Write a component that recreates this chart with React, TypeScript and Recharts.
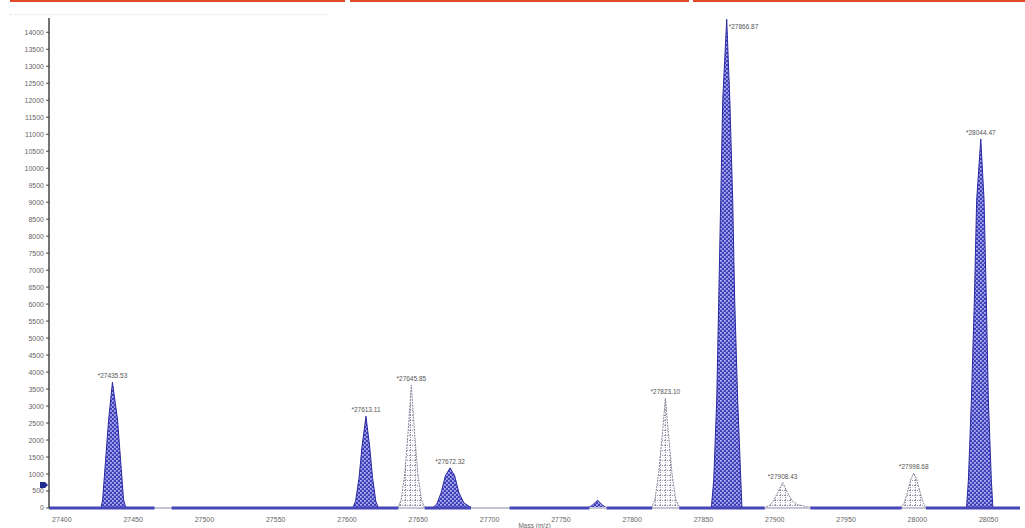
import React from 'react';
import { ComposedChart, Area, XAxis, YAxis, ReferenceDot, ReferenceLine } from 'recharts';

// ---- data (mass in Da, intensity in counts) ----
const xTicks = [27400, 27450, 27500, 27550, 27600, 27650, 27700, 27750, 27800, 27850, 27900, 27950, 28000, 28050];
const yTicks = [0, 500, 1000, 1500, 2000, 2500, 3000, 3500, 4000, 4500, 5000, 5500, 6000, 6500, 7000, 7500,
  8000, 8500, 9000, 9500, 10000, 10500, 11000, 11500, 12000, 12500, 13000, 13500, 14000];

// filled (blue) peaks
const peak27435 = [[27427.5, 0], [27428.6, 235], [27430.7, 1410], [27432.8, 2590], [27435.5, 3700], [27439.1, 2590], [27441.2, 1410], [27443.3, 235], [27445, 0]];
const peak27613 = [[27604, 0], [27606, 200], [27608.5, 900], [27610.5, 1800], [27613.3, 2700], [27615.9, 1800], [27617.9, 900], [27620.2, 200], [27622, 0]];
const peak27672 = [[27660, 0], [27663, 120], [27666, 450], [27669, 950], [27672.3, 1180], [27675.5, 950], [27678.5, 450], [27682, 150], [27686, 40], [27688, 0]];
const peak27776 = [[27769, 0], [27772, 80], [27775.8, 230], [27779, 90], [27782, 0]];
const peak27866 = [[27855.5, 0], [27857.2, 820], [27859.3, 3180], [27860.7, 6120], [27862.1, 9060], [27863.5, 12000], [27866.3, 14380], [27868.5, 12000], [27870.5, 9060], [27871.9, 6120], [27874, 3180], [27876.2, 820], [27877, 0]];
const peak28044 = [[28034.5, 0], [28035.8, 820], [28037.9, 3180], [28040, 6120], [28041.6, 9060], [28044.5, 10860], [28046.8, 9060], [28048.4, 6120], [28049.8, 3180], [28051.9, 820], [28053, 0]];

// open (white, hatched) peaks
const peak27645 = [[27635.5, 0], [27638, 250], [27640.5, 1000], [27642.8, 2200], [27645.1, 3620], [27647.4, 2200], [27649.7, 1000], [27652.2, 250], [27654.5, 0]];
const peak27823 = [[27813.5, 0], [27816, 250], [27818.5, 1000], [27821, 2100], [27823.3, 3235], [27825.6, 2100], [27828, 1000], [27830.5, 250], [27833.5, 0]];
const peak27908 = [[27892, 0], [27896, 60], [27899, 200], [27902, 450], [27905.5, 750], [27909, 450], [27912, 220], [27916, 100], [27922, 40], [27930, 0]];
const peak27998 = [[27988, 0], [27990.5, 120], [27993, 450], [27995.5, 850], [27997.5, 1030], [27999.5, 850], [28002, 450], [28004.5, 120], [28006, 0]];

const bluePeaks = [peak27435, peak27613, peak27672, peak27776, peak27866, peak28044];
const whitePeaks = [peak27645, peak27823, peak27908, peak27998];

// peak annotations
const peakLabels = ['*27435.53', '*27613.11', '*27645.85', '*27672.32', '*27823.10', '*27866.87', '*27908.43', '*27998.68', '*28044.47'];
const peakLabelMass = [27435.5, 27613.3, 27645.1, 27672.3, 27823.3, 27866.3, 27905.5, 27997.5, 28044.5];
const peakLabelHeight = [3700, 2700, 3620, 1180, 3235, 14380, 750, 1030, 10860];

// baseline segments drawn in blue (mass ranges)
const blueBaseline = [[27391, 27465], [27477, 27636], [27654.5, 27687], [27714, 27770], [27782, 27814], [27833, 27893], [27925, 27989], [28006, 28072]];

const thresholdLevel = 680;

const X_DOMAIN: [number, number] = [27391, 28072];
const Y_DOMAIN: [number, number] = [0, 14420];

const toRows = (pts: number[][]) => pts.map(([m, v]) => ({ m, v }));

const FONT = 'Liberation Sans, Arial, sans-serif';
const tickStyle = { fontSize: 7, fill: '#666', fontFamily: FONT };

export default function App() {
  return (
    <div style={{ position: 'absolute', left: 0, top: 0, width: 1025, height: 528, background: '#fff', overflow: 'hidden' }}>
      <div style={{ position: 'absolute', top: 0, left: 10, width: 335, height: 2, background: '#e04a2a' }} />
      <div style={{ position: 'absolute', top: 0, left: 350, width: 339, height: 2, background: '#e04a2a' }} />
      <div style={{ position: 'absolute', top: 0, left: 693, width: 332, height: 2, background: '#e04a2a' }} />
      <div style={{ position: 'absolute', top: 14, left: 10, width: 320, height: 0, borderTop: '1px dotted #e4e4e4' }} />
      <ComposedChart width={1025} height={528} margin={{ top: 18, right: 5, bottom: 0, left: 0 }}>
        <defs>
          <pattern id="bluePat" width="4" height="4" patternUnits="userSpaceOnUse">
            <rect width="4" height="4" fill="#4040b8" />
            <rect x="0" y="0" width="1.8" height="1.8" fill="#aeaef4" />
            <rect x="2" y="2" width="1.8" height="1.8" fill="#aeaef4" />
          </pattern>
          <pattern id="whitePat" width="5" height="5" patternUnits="userSpaceOnUse">
            <rect width="5" height="5" fill="#fcfcfe" />
            <path d="M0 0.5H5M0.5 0V5" stroke="#8e8ea2" strokeWidth="0.9" strokeDasharray="1 1" />
          </pattern>
        </defs>
        <XAxis
          dataKey="m"
          type="number"
          domain={X_DOMAIN}
          allowDataOverflow
          ticks={xTicks}
          interval={0}
          tick={tickStyle}
          tickLine={false}
          tickMargin={3}
          axisLine={false}
          height={20}
          label={{ value: 'Mass (m/z)', position: 'insideBottom', offset: 0, fontSize: 6.5, fill: '#666', fontFamily: FONT }}
        />
        <YAxis
          type="number"
          domain={Y_DOMAIN}
          allowDataOverflow
          ticks={yTicks}
          interval={0}
          width={49}
          tick={tickStyle}
          tickSize={3}
          tickMargin={2}
          tickLine={{ stroke: '#444' }}
          axisLine={{ stroke: '#444', strokeWidth: 1.5 }}
        />
        <ReferenceLine
          segment={[{ x: X_DOMAIN[0], y: 0 }, { x: X_DOMAIN[1], y: 0 }]}
          stroke="#c4c4d2"
          strokeWidth={2}
          ifOverflow="visible"
        />
        {blueBaseline.map(([a, b], i) => (
          <ReferenceLine
            key={'bl' + i}
            segment={[{ x: a, y: 0 }, { x: b, y: 0 }]}
            stroke="#4646b8"
            strokeWidth={3}
            ifOverflow="visible"
          />
        ))}
        {whitePeaks.map((p, i) => (
          <Area
            key={'w' + i}
            data={toRows(p)}
            dataKey="v"
            type="linear"
            stroke="#86869a"
            strokeWidth={1}
            strokeDasharray="2 1"
            fill="url(#whitePat)"
            fillOpacity={1}
            isAnimationActive={false}
          />
        ))}
        {bluePeaks.map((p, i) => (
          <Area
            key={'b' + i}
            data={toRows(p)}
            dataKey="v"
            type="linear"
            stroke="#2a2aa0"
            strokeWidth={1}
            fill="url(#bluePat)"
            fillOpacity={1}
            isAnimationActive={false}
          />
        ))}
        {peakLabels.map((t, i) => (
          <ReferenceDot
            key={'l' + i}
            x={peakLabelMass[i]}
            y={peakLabelHeight[i]}
            ifOverflow="visible"
            shape={(props: any) => {
              const top = props.cy < 40;
              return (
                <text
                  x={top ? props.cx + 2 : props.cx}
                  y={top ? props.cy + 10 : props.cy - 4}
                  textAnchor={top ? 'start' : 'middle'}
                  fontSize={6.5}
                  fill="#555"
                  fontFamily={FONT}
                >
                  {t}
                </text>
              );
            }}
          />
        ))}
        <ReferenceDot
          x={X_DOMAIN[0]}
          y={thresholdLevel}
          ifOverflow="visible"
          shape={(props: any) => (
            <polygon
              points={`${props.cx - 9},${props.cy - 3} ${props.cx - 4},${props.cy - 3} ${props.cx - 1},${props.cy} ${props.cx - 4},${props.cy + 3} ${props.cx - 9},${props.cy + 3}`}
              fill="#1c2a8c"
            />
          )}
        />
      </ComposedChart>
    </div>
  );
}
